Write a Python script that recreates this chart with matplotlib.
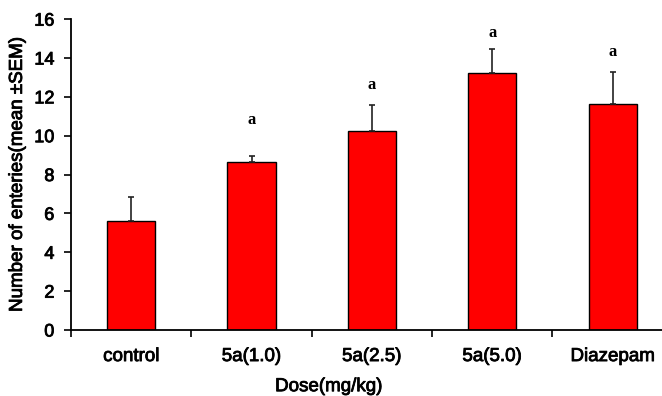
import matplotlib
matplotlib.use("Agg")
import matplotlib.pyplot as plt
import matplotlib.patheffects as pe
import numpy as np

# data
groups = ["control", "5a(1.0)", "5a(2.5)", "5a(5.0)", "Diazepam"]
means = [5.62, 8.66, 10.25, 13.22, 11.61]
sems = [1.22, 0.31, 1.31, 1.22, 1.68]
sig_marks = ["", "a", "a", "a", "a"]
sig_heights = [0, 10.8, 12.6, 15.3, 14.3]

plt.rcParams['font.family'] = ['Liberation Sans', 'DejaVu Sans']
heavy = [pe.withStroke(linewidth=0.6, foreground='black')]

fig = plt.figure(figsize=(6.62, 3.96), dpi=100)
ax = fig.add_axes([0.1073, 0.1667, 0.909, 0.785])

pos = np.arange(len(groups))
ax.bar(pos, means, width=0.4, color='#ff0000', edgecolor='black', linewidth=1.0,
       yerr=[np.zeros(len(sems)), sems], capsize=2.5,
       error_kw=dict(elinewidth=1.2, capthick=1.2, ecolor='#222222'), zorder=2)

for p, m, h in zip(pos, sig_marks, sig_heights):
    if m:
        ax.text(p, h, m, ha='center', va='center', family='Liberation Serif',
                fontweight='bold', fontsize=12)

ax.set_xlim(-0.5, len(groups) - 0.5)
ax.set_ylim(0, 16)
ax.set_yticks(range(0, 17, 2))
ax.set_xticks(pos)
ax.set_xticklabels(groups)
ax.set_xticks(np.arange(-0.5, len(groups), 1.0), minor=True)
ax.tick_params(axis='x', which='major', length=0, pad=13, labelsize=13.5)
ax.tick_params(axis='x', which='minor', length=5, width=1.2, direction='out')
ax.tick_params(axis='y', length=5, width=1.2, pad=7, labelsize=13)

for s in ['top', 'right']:
    ax.spines[s].set_visible(False)
for s in ['left', 'bottom']:
    ax.spines[s].set_linewidth(1.3)

ax.set_ylabel('Number of enteries(mean \u00b1SEM)', fontsize=13.5)
ax.set_xlabel('Dose(mg/kg)', fontsize=13.5)
ax.yaxis.set_label_coords(-0.075, 0.5)
ax.xaxis.set_label_coords(0.428, -0.155)

for t in ax.get_xticklabels() + ax.get_yticklabels() + [ax.xaxis.label, ax.yaxis.label]:
    t.set_path_effects(heavy)

fig.savefig('out.png', dpi=100)
